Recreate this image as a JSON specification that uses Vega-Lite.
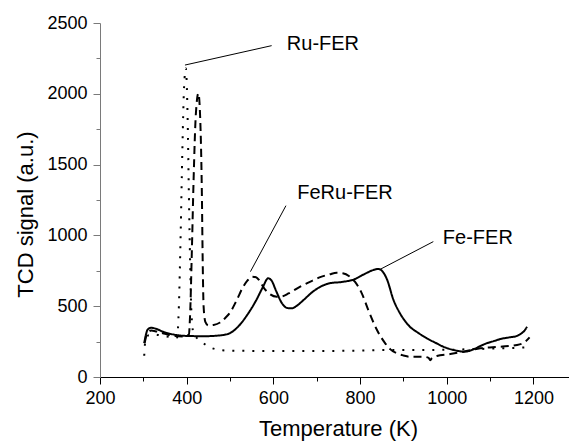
{
  "$schema": "https://vega.github.io/schema/vega-lite/v6.json",
  "autosize": "none",
  "width": 469,
  "height": 354,
  "padding": {"left": 100, "top": 23, "right": 0, "bottom": 64},
  "background": "white",
  "config": {
    "view": {"stroke": null},
    "font": "Liberation Sans",
    "axis": {"grid": false, "labelFont": "Liberation Sans", "titleFont": "Liberation Sans", "labelColor": "black", "titleColor": "black", "titleFontWeight": "normal"}
  },
  "datasets": {
    "curves": [
      {"s": "Fe-FER", "x": 302, "y": 238}, {"s": "Fe-FER", "x": 306, "y": 300}, {"s": "Fe-FER", "x": 310, "y": 335}, {"s": "Fe-FER", "x": 318, "y": 348}, {"s": "Fe-FER", "x": 330, "y": 340}, {"s": "Fe-FER", "x": 345, "y": 320}, {"s": "Fe-FER", "x": 370, "y": 300}, {"s": "Fe-FER", "x": 400, "y": 290}, {"s": "Fe-FER", "x": 440, "y": 288}, {"s": "Fe-FER", "x": 480, "y": 295}, {"s": "Fe-FER", "x": 500, "y": 310}, {"s": "Fe-FER", "x": 520, "y": 360}, {"s": "Fe-FER", "x": 540, "y": 440}, {"s": "Fe-FER", "x": 560, "y": 540}, {"s": "Fe-FER", "x": 575, "y": 630}, {"s": "Fe-FER", "x": 588, "y": 697}, {"s": "Fe-FER", "x": 596, "y": 680}, {"s": "Fe-FER", "x": 606, "y": 610}, {"s": "Fe-FER", "x": 620, "y": 520}, {"s": "Fe-FER", "x": 632, "y": 487}, {"s": "Fe-FER", "x": 642, "y": 485}, {"s": "Fe-FER", "x": 655, "y": 505}, {"s": "Fe-FER", "x": 670, "y": 545}, {"s": "Fe-FER", "x": 690, "y": 600}, {"s": "Fe-FER", "x": 710, "y": 640}, {"s": "Fe-FER", "x": 730, "y": 662}, {"s": "Fe-FER", "x": 760, "y": 672}, {"s": "Fe-FER", "x": 785, "y": 688}, {"s": "Fe-FER", "x": 812, "y": 730}, {"s": "Fe-FER", "x": 830, "y": 755}, {"s": "Fe-FER", "x": 842, "y": 763}, {"s": "Fe-FER", "x": 852, "y": 745}, {"s": "Fe-FER", "x": 862, "y": 690}, {"s": "Fe-FER", "x": 877, "y": 545}, {"s": "Fe-FER", "x": 892, "y": 450}, {"s": "Fe-FER", "x": 905, "y": 390}, {"s": "Fe-FER", "x": 915, "y": 355}, {"s": "Fe-FER", "x": 935, "y": 310}, {"s": "Fe-FER", "x": 954, "y": 273}, {"s": "Fe-FER", "x": 975, "y": 240}, {"s": "Fe-FER", "x": 992, "y": 214}, {"s": "Fe-FER", "x": 1010, "y": 195}, {"s": "Fe-FER", "x": 1023, "y": 186}, {"s": "Fe-FER", "x": 1039, "y": 179}, {"s": "Fe-FER", "x": 1050, "y": 183}, {"s": "Fe-FER", "x": 1062, "y": 196}, {"s": "Fe-FER", "x": 1077, "y": 218}, {"s": "Fe-FER", "x": 1092, "y": 238}, {"s": "Fe-FER", "x": 1110, "y": 255}, {"s": "Fe-FER", "x": 1123, "y": 268}, {"s": "Fe-FER", "x": 1145, "y": 280}, {"s": "Fe-FER", "x": 1162, "y": 290}, {"s": "Fe-FER", "x": 1173, "y": 310}, {"s": "Fe-FER", "x": 1180, "y": 330}, {"s": "Fe-FER", "x": 1185, "y": 355},
      {"s": "FeRu-FER", "x": 303, "y": 240}, {"s": "FeRu-FER", "x": 308, "y": 300}, {"s": "FeRu-FER", "x": 318, "y": 328}, {"s": "FeRu-FER", "x": 330, "y": 322}, {"s": "FeRu-FER", "x": 350, "y": 305}, {"s": "FeRu-FER", "x": 370, "y": 290}, {"s": "FeRu-FER", "x": 390, "y": 286}, {"s": "FeRu-FER", "x": 400, "y": 292}, {"s": "FeRu-FER", "x": 405, "y": 300}, {"s": "FeRu-FER", "x": 408, "y": 450}, {"s": "FeRu-FER", "x": 412, "y": 900}, {"s": "FeRu-FER", "x": 416, "y": 1400}, {"s": "FeRu-FER", "x": 421, "y": 1850}, {"s": "FeRu-FER", "x": 427, "y": 2003}, {"s": "FeRu-FER", "x": 432, "y": 1750}, {"s": "FeRu-FER", "x": 435, "y": 1300}, {"s": "FeRu-FER", "x": 437, "y": 800}, {"s": "FeRu-FER", "x": 439, "y": 500}, {"s": "FeRu-FER", "x": 443, "y": 390}, {"s": "FeRu-FER", "x": 450, "y": 365}, {"s": "FeRu-FER", "x": 462, "y": 368}, {"s": "FeRu-FER", "x": 477, "y": 385}, {"s": "FeRu-FER", "x": 490, "y": 420}, {"s": "FeRu-FER", "x": 500, "y": 455}, {"s": "FeRu-FER", "x": 515, "y": 540}, {"s": "FeRu-FER", "x": 530, "y": 636}, {"s": "FeRu-FER", "x": 540, "y": 680}, {"s": "FeRu-FER", "x": 550, "y": 708}, {"s": "FeRu-FER", "x": 560, "y": 705}, {"s": "FeRu-FER", "x": 568, "y": 680}, {"s": "FeRu-FER", "x": 578, "y": 630}, {"s": "FeRu-FER", "x": 590, "y": 590}, {"s": "FeRu-FER", "x": 608, "y": 567}, {"s": "FeRu-FER", "x": 620, "y": 570}, {"s": "FeRu-FER", "x": 635, "y": 590}, {"s": "FeRu-FER", "x": 662, "y": 638}, {"s": "FeRu-FER", "x": 690, "y": 680}, {"s": "FeRu-FER", "x": 708, "y": 705}, {"s": "FeRu-FER", "x": 730, "y": 725}, {"s": "FeRu-FER", "x": 746, "y": 737}, {"s": "FeRu-FER", "x": 760, "y": 733}, {"s": "FeRu-FER", "x": 775, "y": 712}, {"s": "FeRu-FER", "x": 788, "y": 673}, {"s": "FeRu-FER", "x": 804, "y": 591}, {"s": "FeRu-FER", "x": 819, "y": 473}, {"s": "FeRu-FER", "x": 839, "y": 332}, {"s": "FeRu-FER", "x": 858, "y": 238}, {"s": "FeRu-FER", "x": 870, "y": 195}, {"s": "FeRu-FER", "x": 885, "y": 167}, {"s": "FeRu-FER", "x": 900, "y": 152}, {"s": "FeRu-FER", "x": 915, "y": 143}, {"s": "FeRu-FER", "x": 946, "y": 143}, {"s": "FeRu-FER", "x": 958, "y": 135}, {"s": "FeRu-FER", "x": 962, "y": 118}, {"s": "FeRu-FER", "x": 966, "y": 135}, {"s": "FeRu-FER", "x": 977, "y": 148}, {"s": "FeRu-FER", "x": 1008, "y": 162}, {"s": "FeRu-FER", "x": 1039, "y": 179}, {"s": "FeRu-FER", "x": 1077, "y": 203}, {"s": "FeRu-FER", "x": 1123, "y": 214}, {"s": "FeRu-FER", "x": 1162, "y": 226}, {"s": "FeRu-FER", "x": 1181, "y": 249}, {"s": "FeRu-FER", "x": 1191, "y": 280},
      {"s": "Ru-FER", "x": 302, "y": 150}, {"s": "Ru-FER", "x": 305, "y": 265}, {"s": "Ru-FER", "x": 312, "y": 295}, {"s": "Ru-FER", "x": 325, "y": 300}, {"s": "Ru-FER", "x": 345, "y": 290}, {"s": "Ru-FER", "x": 365, "y": 280}, {"s": "Ru-FER", "x": 375, "y": 275}, {"s": "Ru-FER", "x": 378, "y": 280}, {"s": "Ru-FER", "x": 382, "y": 500}, {"s": "Ru-FER", "x": 386, "y": 1000}, {"s": "Ru-FER", "x": 390, "y": 1600}, {"s": "Ru-FER", "x": 394, "y": 2050}, {"s": "Ru-FER", "x": 398, "y": 2180}, {"s": "Ru-FER", "x": 402, "y": 1850}, {"s": "Ru-FER", "x": 405, "y": 1300}, {"s": "Ru-FER", "x": 408, "y": 800}, {"s": "Ru-FER", "x": 411, "y": 450}, {"s": "Ru-FER", "x": 415, "y": 320}, {"s": "Ru-FER", "x": 425, "y": 270}, {"s": "Ru-FER", "x": 440, "y": 235}, {"s": "Ru-FER", "x": 455, "y": 208}, {"s": "Ru-FER", "x": 475, "y": 192}, {"s": "Ru-FER", "x": 500, "y": 186}, {"s": "Ru-FER", "x": 600, "y": 184}, {"s": "Ru-FER", "x": 700, "y": 184}, {"s": "Ru-FER", "x": 800, "y": 186}, {"s": "Ru-FER", "x": 850, "y": 190}, {"s": "Ru-FER", "x": 900, "y": 190}, {"s": "Ru-FER", "x": 1000, "y": 192}, {"s": "Ru-FER", "x": 1050, "y": 196}, {"s": "Ru-FER", "x": 1100, "y": 200}, {"s": "Ru-FER", "x": 1150, "y": 205}, {"s": "Ru-FER", "x": 1192, "y": 210}
    ],
    "labels": [
      {"label": "Ru-FER", "x": 631, "y": 2309},
      {"label": "FeRu-FER", "x": 655, "y": 1257},
      {"label": "Fe-FER", "x": 991, "y": 939}
    ],
    "leaders": [
      {"x": 396, "y": 2203, "x2": 596, "y2": 2340},
      {"x": 547, "y": 744, "x2": 629, "y2": 1210},
      {"x": 848, "y": 763, "x2": 969, "y2": 956}
    ]
  },
  "layer": [
    {
      "data": {"name": "curves"},
      "mark": {"type": "line", "color": "black", "strokeWidth": 2, "strokeCap": "butt", "interpolate": "monotone"},
      "encoding": {
        "x": {"field": "x", "type": "quantitative", "scale": {"domain": [200, 1282], "nice": false, "zero": false},
          "axis": {"values": [200, 400, 600, 800, 1000, 1200], "format": "d", "orient": "bottom", "title": "Temperature (K)", "titleFontSize": 22, "titleX": 238, "titleY": 58, "titleBaseline": "alphabetic", "labelFontSize": 18, "tickSize": 7, "labelPadding": 5, "domainColor": "black", "tickColor": "black", "labelFlush": false, "labelOverlap": false}},
        "y": {"field": "y", "type": "quantitative", "scale": {"domain": [0, 2500], "nice": false},
          "axis": {"values": [0, 500, 1000, 1500, 2000, 2500], "format": "d", "orient": "left", "title": "TCD signal (a.u.)", "titleFontSize": 22, "titleX": -75, "titleY": 191, "titleBaseline": "middle", "labelFontSize": 18, "tickSize": 7, "labelPadding": 6, "domainColor": "#7a7a7a", "tickColor": "#7a7a7a", "labelFlush": false, "labelOverlap": false}},
        "detail": {"field": "s"},
        "strokeDash": {"field": "s", "type": "nominal", "scale": {"domain": ["Fe-FER", "FeRu-FER", "Ru-FER"], "range": [[1, 0], [8, 5], [2, 8]]}, "legend": null}
      }
    },
    {
      "data": {"name": "labels"},
      "mark": {"type": "text", "align": "left", "baseline": "alphabetic", "fontSize": 20, "font": "Liberation Sans", "color": "black"},
      "encoding": {
        "x": {"field": "x", "type": "quantitative", "axis": {"values": [300, 500, 700, 900, 1100], "orient": "bottom", "labels": false, "title": null, "domain": false, "tickSize": 4, "tickColor": "black"}},
        "y": {"field": "y", "type": "quantitative", "axis": {"values": [250, 750, 1250, 1750, 2250], "orient": "left", "labels": false, "title": null, "domain": false, "tickSize": 4, "tickColor": "#7a7a7a"}},
        "text": {"field": "label"}
      }
    },
    {
      "data": {"name": "leaders"},
      "mark": {"type": "rule", "color": "black", "strokeWidth": 1},
      "encoding": {
        "x": {"field": "x", "type": "quantitative", "axis": null},
        "y": {"field": "y", "type": "quantitative", "axis": null},
        "x2": {"field": "x2"},
        "y2": {"field": "y2"}
      }
    }
  ],
  "resolve": {"axis": {"x": "independent", "y": "independent"}}
}
